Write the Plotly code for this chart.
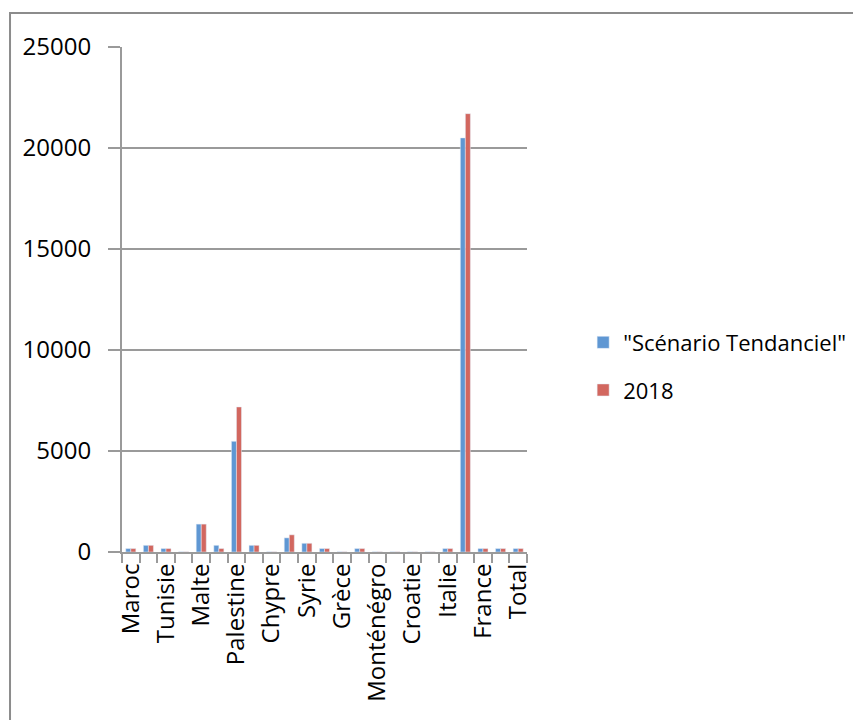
import numpy as np
import plotly.graph_objects as go

# Catégories (une étiquette sur deux est affichée, comme dans l'original)
pays = ["Maroc", "Algérie", "Tunisie", "Libye", "Malte", "Égypte", "Palestine",
        "Israël", "Chypre", "Liban", "Syrie", "Turquie", "Grèce", "Albanie",
        "Monténégro", "Bosnie", "Croatie", "Slovénie", "Italie", "Monaco",
        "France", "Espagne", "Total"]
etiquettes = [p if i % 2 == 0 else "" for i, p in enumerate(pays)]

scenario_tendanciel = [170, 330, 170, 10, 1380, 330, 5480, 330, 10, 700, 430, 170,
                       10, 170, 10, 10, 10, 10, 170, 20500, 170, 170, 170]
annee_2018 = [170, 330, 170, 10, 1380, 170, 7180, 330, 10, 850, 430, 170,
              10, 170, 10, 10, 10, 10, 170, 21700, 170, 170, 170]

y_ticks = [0, 5000, 10000, 15000, 20000, 25000]

x_pos = np.arange(len(pays))
police = "Open Sans, DejaVu Sans, sans-serif"
gris = "#9a9a9a"

fig = go.Figure()
fig.add_trace(go.Bar(x=x_pos, y=scenario_tendanciel, name='"Scénario Tendanciel"',
                     marker_color="#5F97D3", legendgroup="a"))
fig.add_trace(go.Bar(x=x_pos, y=annee_2018, name="2018",
                     marker_color="#D2675F", legendgroup="b"))

# la page ajoute une marge de 8 px : on compense dans les marges
fig.update_layout(
    width=861, height=720,
    margin=dict(l=114, r=342, t=39, b=176),
    plot_bgcolor="white", paper_bgcolor="white",
    font=dict(family=police, size=24, color="black"),
    barmode="group", bargap=0.43, bargroupgap=0,
    showlegend=True,
    legend=dict(xref="container", yref="container",
                x=0.668, y=0.502, xanchor="left", yanchor="middle",
                traceorder="grouped", tracegroupgap=16,
                font=dict(size=22), itemwidth=30),
)

fig.update_xaxes(
    range=[-0.5, len(pays) - 0.5],
    tickmode="array", tickvals=x_pos, ticktext=etiquettes,
    tickangle=-90, ticks="", automargin=False,
    showline=True, linecolor=gris, linewidth=2,
    showgrid=False, zeroline=False,
    minor=dict(ticks="outside", tick0=-0.5, dtick=1, ticklen=9,
               tickcolor=gris, tickwidth=2, showgrid=False),
)
fig.update_yaxes(
    range=[0, 25000], tickvals=y_ticks, tickformat="d",
    ticks="outside", ticklen=12, tickcolor=gris, tickwidth=2,
    ticklabelstandoff=12, automargin=False,
    showline=True, linecolor=gris, linewidth=2,
    showgrid=True, gridcolor=gris, gridwidth=2,
    zeroline=False,
)

# cadre extérieur du graphique
fig.add_shape(type="rect", xref="paper", yref="paper",
              x0=-0.2765, y0=-1.0, x1=2.0, y1=1.0673,
              line=dict(color="#8c8c8c", width=2), layer="below")

fig.write_html("out.html")
